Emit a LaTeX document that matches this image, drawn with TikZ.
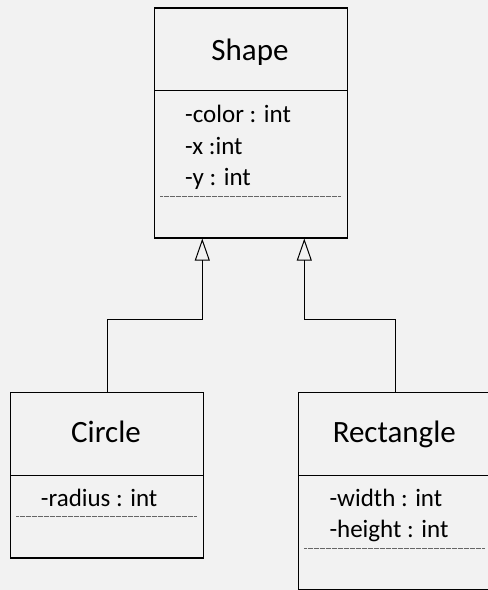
\documentclass[tikz,border=0pt]{standalone}
\usepackage{fontspec}
\setmainfont{Carlito}
\usetikzlibrary{arrows.meta}
\definecolor{bg}{HTML}{F2F2F2}
\tikzset{
  classbox/.style={draw=black, line width=1.3pt, rectangle, inner sep=0pt, anchor=north west},
  divider/.style={draw=black, line width=1.3pt},
  dotsep/.style={draw=black!60, line width=0.7pt, dash pattern=on 0.7pt off 0.5pt},
  title/.style={anchor=base, inner sep=0pt, font=\fontsize{31}{31}\selectfont},
  attr/.style={anchor=base west, inner sep=0pt, font=\fontsize{25}{25}\selectfont},
  inherit/.style={draw=black, line width=1pt, -{Triangle[open, length=22pt, width=15pt, line width=1pt]}}
}
\begin{document}
\begin{tikzpicture}[x=1pt, y=-1pt]
\fill[bg] (0,0) rectangle (488,590);
\useasboundingbox (0,0) rectangle (488,590);

% Shape
\node[classbox, minimum width=192.7pt, minimum height=230pt] (shape) at (154,7.3) {};
\draw[divider] (154,90.7) -- (346.7,90.7);
\draw[dotsep] (160,196.7) -- (340.7,196.7);
\node[title] (shapet) at (250,60) {Shape};
\node[attr] (sa1) at (185,122.7) {-color : int};
\node[attr] (sa2) at (185,154) {-x :int};
\node[attr] (sa3) at (185,185.3) {-y : int};

% Circle
\node[classbox, minimum width=192.7pt, minimum height=165.6pt] (circle) at (10,391.7) {};
\draw[divider] (10,475.7) -- (202.7,475.7);
\draw[dotsep] (16,516.3) -- (196.7,516.3);
\node[title] (circlet) at (106,442.7) {Circle};
\node[attr] (ca1) at (40.7,506) {-radius : int};

% Rectangle
\node[classbox, minimum width=192.7pt, minimum height=197.6pt] (rect) at (298,391.7) {};
\draw[divider] (298,475.7) -- (490.7,475.7);
\draw[dotsep] (304,548.3) -- (484.7,548.3);
\node[title] (rectt) at (394.3,442.7) {Rectangle};
\node[attr] (ra1) at (329.3,506) {-width : int};
\node[attr] (ra2) at (329.3,537.3) {-height : int};

% Inheritance connectors
\coordinate (jl) at (202.3,319.3);
\coordinate (jr) at (304.3,319.3);
\draw[inherit] (circle.north) |- (jl) -- (shape.south -| jl);
\draw[inherit] (rect.north) |- (jr) -- (shape.south -| jr);
\end{tikzpicture}
\end{document}
